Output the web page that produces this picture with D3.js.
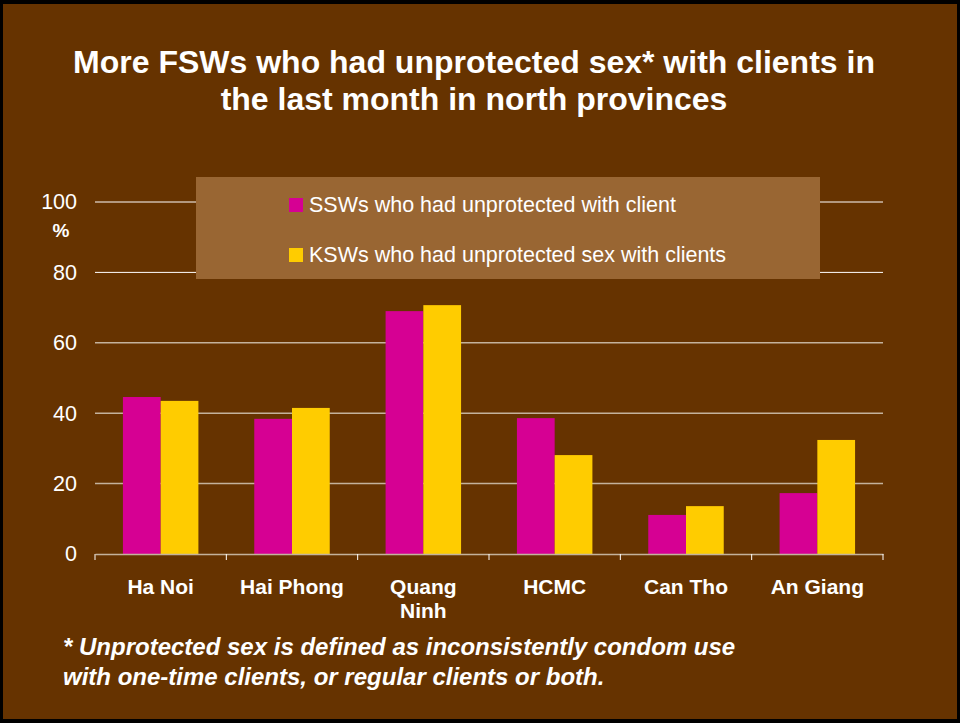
<!DOCTYPE html>
<html>
<head>
<meta charset="utf-8">
<script src="https://cdn.jsdelivr.net/npm/d3@7"></script>
<style>
  html, body { margin: 0; padding: 0; background: #000; }
  svg { display: block; }
  text { font-family: "Liberation Sans", Arial, sans-serif; }
</style>
</head>
<body>
<script>
// Sites along the x axis (label lines per site)
const categories = ["Ha Noi", "Hai Phong", "Quang Ninh", "HCMC", "Can Tho", "An Giang"];
const categoryLines = [["Ha Noi"], ["Hai Phong"], ["Quang", "Ninh"], ["HCMC"], ["Can Tho"], ["An Giang"]];
// Percent of women reporting unprotected sex with clients
const seriesNames = ["SSWs who had unprotected with client", "KSWs who had unprotected sex with clients"];
const ssw = [44.6, 38.4, 69.0, 38.6, 11.1, 17.3];
const ksw = [43.5, 41.5, 70.7, 28.1, 13.6, 32.4];
const yTicks = [0, 20, 40, 60, 80, 100];
const titleLines = ["More FSWs who had unprotected sex* with clients in", "the last month in north provinces"];
const noteLines = ["* Unprotected sex is defined as inconsistently condom use", "with one-time clients, or regular clients or both."];

const W = 960, H = 723;
const colors = ["#D60093", "#FFCC00"];

const svg = d3.select("body").append("svg").attr("width", W).attr("height", H);

// Slide background with dark frame
svg.append("rect").attr("x", 0).attr("y", 0).attr("width", W).attr("height", H).attr("fill", "#000");
svg.append("rect").attr("x", 3).attr("y", 4).attr("width", W - 6).attr("height", H - 8).attr("fill", "#663300");

// Title
svg.append("g").selectAll("text").data(titleLines).join("text")
  .attr("x", 474).attr("y", (d, i) => 73 + i * 37)
  .attr("text-anchor", "middle")
  .attr("fill", "#fff").attr("font-weight", "bold").attr("font-size", 32)
  .text(d => d);

// Scales
const x0 = d3.scaleBand().domain(categories).range([95, 883]).paddingInner(0).paddingOuter(0);
const x1 = d3.scaleBand().domain([0, 1]).range([0, x0.bandwidth()]).paddingInner(0).paddingOuter(0.74);
const y = d3.scaleLinear().domain([0, 100]).range([554, 202]);

// Gridlines
const grid = svg.append("g");
grid.selectAll("line").data(yTicks.filter(t => t > 0)).join("line")
  .attr("x1", 95).attr("x2", 883)
  .attr("y1", d => y(d)).attr("y2", d => y(d))
  .attr("stroke", d => d >= 80 ? "#ffffff" : "#c4b29c")
  .attr("stroke-width", d => d >= 80 ? 1 : 1.5);

// Legend box
const legend = svg.append("g");
legend.append("rect").attr("x", 196).attr("y", 177).attr("width", 624).attr("height", 102).attr("fill", "#996633");
const li = legend.selectAll("g").data(seriesNames).join("g")
  .attr("transform", (d, i) => `translate(289, ${198 + i * 50})`);
li.append("rect").attr("width", 14).attr("height", 14).attr("fill", (d, i) => colors[i]);
li.append("text").attr("x", 20).attr("y", 14).attr("fill", "#fff").attr("font-size", 21.5).text(d => d);

// Bars
const rows = categories.map((c, i) => ({ c, vals: [ssw[i], ksw[i]] }));
svg.append("g").selectAll("g").data(rows).join("g")
  .attr("transform", d => `translate(${x0(d.c)},0)`)
  .selectAll("rect").data(d => d.vals.map((v, k) => ({ v, k }))).join("rect")
  .attr("x", d => x1(d.k)).attr("width", x1.bandwidth())
  .attr("y", d => y(d.v)).attr("height", d => y(0) - y(d.v))
  .attr("fill", d => colors[d.k]);

// Y axis labels
const yAxis = d3.axisLeft(y).tickValues(yTicks).tickSize(0).tickPadding(0);
const yg = svg.append("g").attr("transform", "translate(77,0)").call(yAxis);
yg.select(".domain").remove();
yg.selectAll("text").attr("fill", "#fff").attr("font-size", 21.5)
  .attr("font-family", "'Liberation Sans', Arial, sans-serif");
svg.append("text").attr("x", 61).attr("y", 237).attr("text-anchor", "middle")
  .attr("fill", "#fff").attr("font-size", 19).attr("font-weight", "bold").text("%");

// X axis line and category dividers
const xAxis = d3.axisBottom(x0).tickSize(0).tickFormat("");
const xg = svg.append("g").attr("transform", `translate(0,${y(0)})`).call(xAxis);
xg.select(".domain").attr("stroke", "#c4b29c").attr("stroke-width", 1.5);
const bounds = categories.map(c => x0(c)).concat([x0.range()[1]]);
svg.append("g").selectAll("line").data(bounds).join("line")
  .attr("x1", d => d).attr("x2", d => d)
  .attr("y1", y(0)).attr("y2", y(0) + 6)
  .attr("stroke", "#fff").attr("stroke-width", 1);

// Category labels
const cl = svg.append("g").selectAll("text").data(categories).join("text")
  .attr("x", d => x0(d) + x0.bandwidth() / 2)
  .attr("text-anchor", "middle")
  .attr("fill", "#fff").attr("font-weight", "bold").attr("font-size", 21);
cl.each(function (d, i) {
  d3.select(this).selectAll("tspan").data(categoryLines[i]).join("tspan")
    .attr("x", x0(d) + x0.bandwidth() / 2)
    .attr("y", (t, j) => 594 + j * 24)
    .text(t => t);
});

// Footnote
svg.append("g").selectAll("text").data(noteLines).join("text")
  .attr("x", 63).attr("y", (d, i) => 655 + i * 30)
  .attr("fill", "#fff").attr("font-weight", "bold").attr("font-style", "italic").attr("font-size", 24)
  .text(d => d);
</script>
</body>
</html>
